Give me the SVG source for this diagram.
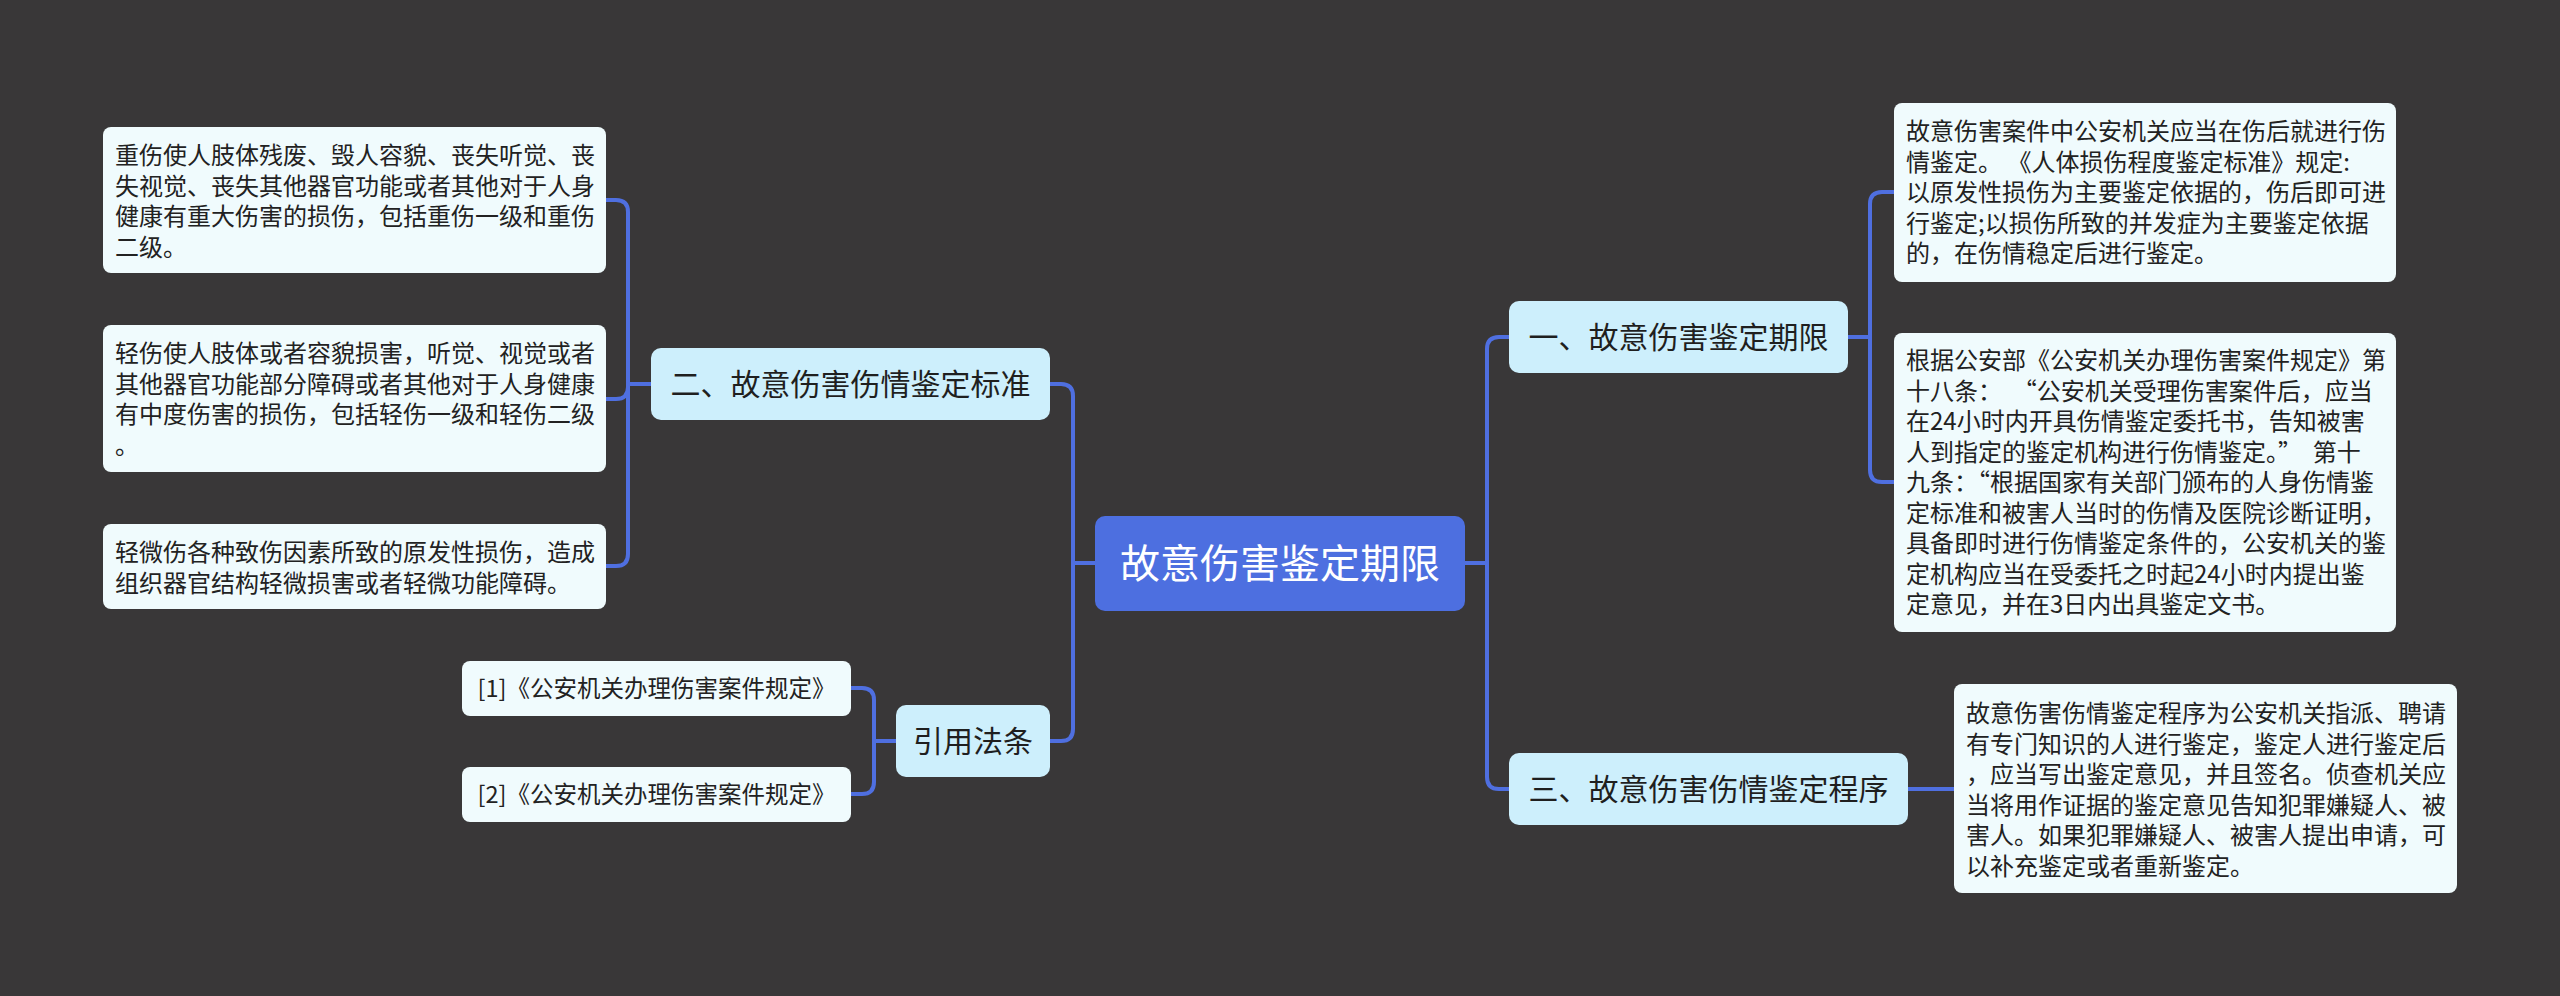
<svg xmlns="http://www.w3.org/2000/svg" width="2560" height="996" viewBox="0 0 2560 996">
<style>
text{font-family:"Noto Sans CJK SC","Noto Sans",sans-serif;}
.leaf{fill:#f0fbfd;}
.branch{fill:#cdeffc;}
.root{fill:#4d6fe0;}
.lt{font-size:24px;fill:#222222;}
.bt{font-size:30px;fill:#1f1f1f;text-anchor:middle;}
.rt{font-size:40px;fill:#ffffff;text-anchor:middle;}
.ref{font-size:23.5px;fill:#222222;text-anchor:middle;}
.conn path{fill:none;stroke:#4f6fe0;stroke-width:4;stroke-linejoin:round;stroke-linecap:round;}
</style>
<rect x="0" y="0" width="2560" height="996" fill="#393738"/>
<g id="connectors" class="conn">
<path d="M1465,563 H1487 V349 Q1487,337 1499,337 H1509"/>
<path d="M1465,563 H1487 V777 Q1487,789 1499,789 H1509"/>
<path d="M1095,563 H1073 V396 Q1073,384 1061,384 H1050"/>
<path d="M1095,563 H1073 V729 Q1073,741 1061,741 H1050"/>
<path d="M651,384 H628 V212 Q628,200 616,200 H606"/>
<path d="M651,384 H628 V387 Q628,399 616,399 H606"/>
<path d="M651,384 H628 V554 Q628,566 616,566 H606"/>
<path d="M896,741 H874 V700 Q874,688 862,688 H851"/>
<path d="M896,741 H874 V782 Q874,794 862,794 H851"/>
<path d="M1848,337 H1870 V204 Q1870,192 1882,192 H1894"/>
<path d="M1848,337 H1870 V470 Q1870,482 1882,482 H1894"/>
<path d="M1908,789 H1954"/>
</g>
<g id="root">
<rect class="root" x="1095" y="516" width="370" height="95" rx="10"/>
<text class="rt" x="1280" y="578">故意伤害鉴定期限</text>
</g>
<g id="b1">
<rect class="branch" x="1509" y="301" width="339" height="72" rx="10"/>
<text class="bt" x="1678.5" y="348">一、故意伤害鉴定期限</text>
</g>
<g id="b2">
<rect class="branch" x="651" y="348" width="399" height="72" rx="10"/>
<text class="bt" x="850.5" y="395">二、故意伤害伤情鉴定标准</text>
</g>
<g id="b3">
<rect class="branch" x="1509" y="753" width="399" height="72" rx="10"/>
<text class="bt" x="1708.5" y="800">三、故意伤害伤情鉴定程序</text>
</g>
<g id="b4">
<rect class="branch" x="896" y="705" width="154" height="72" rx="10"/>
<text class="bt" x="973" y="752">引用法条</text>
</g>
<g id="l1">
<rect class="leaf" x="103" y="127" width="503" height="146" rx="8"/>
<text class="lt" x="115" y="164">重伤使人肢体残废、毁人容貌、丧失听觉、丧</text>
<text class="lt" x="115" y="194.5">失视觉、丧失其他器官功能或者其他对于人身</text>
<text class="lt" x="115" y="225">健康有重大伤害的损伤，包括重伤一级和重伤</text>
<text class="lt" x="115" y="255.5">二级。</text>
</g>
<g id="l2">
<rect class="leaf" x="103" y="325" width="503" height="147" rx="8"/>
<text class="lt" x="115" y="362">轻伤使人肢体或者容貌损害，听觉、视觉或者</text>
<text class="lt" x="115" y="392.5">其他器官功能部分障碍或者其他对于人身健康</text>
<text class="lt" x="115" y="423">有中度伤害的损伤，包括轻伤一级和轻伤二级</text>
<text class="lt" x="115" y="453.5">。</text>
</g>
<g id="l3">
<rect class="leaf" x="103" y="524" width="503" height="85" rx="8"/>
<text class="lt" x="115" y="561">轻微伤各种致伤因素所致的原发性损伤，造成</text>
<text class="lt" x="115" y="591.5">组织器官结构轻微损害或者轻微功能障碍。</text>
</g>
<g id="ref1">
<rect class="leaf" x="462" y="661" width="389" height="55" rx="8"/>
<text class="ref" x="656.5" y="697">[1]《公安机关办理伤害案件规定》</text>
</g>
<g id="ref2">
<rect class="leaf" x="462" y="767" width="389" height="55" rx="8"/>
<text class="ref" x="656.5" y="803">[2]《公安机关办理伤害案件规定》</text>
</g>
<g id="r1">
<rect class="leaf" x="1894" y="103" width="502" height="179" rx="8"/>
<text class="lt" x="1906" y="140">故意伤害案件中公安机关应当在伤后就进行伤</text>
<text class="lt" x="1906" y="170.5" xml:space="preserve">情鉴定。 《人体损伤程度鉴定标准》规定:</text>
<text class="lt" x="1906" y="201">以原发性损伤为主要鉴定依据的，伤后即可进</text>
<text class="lt" x="1906" y="231.5">行鉴定;以损伤所致的并发症为主要鉴定依据</text>
<text class="lt" x="1906" y="262">的，在伤情稳定后进行鉴定。</text>
</g>
<g id="r2">
<rect class="leaf" x="1894" y="333" width="502" height="299" rx="8"/>
<text class="lt" x="1906" y="369">根据公安部《公安机关办理伤害案件规定》第</text>
<text class="lt" x="1906" y="399.5" xml:space="preserve">十八条：  “公安机关受理伤害案件后，应当</text>
<text class="lt" x="1906" y="430">在24小时内开具伤情鉴定委托书，告知被害</text>
<text class="lt" x="1906" y="460.5" xml:space="preserve">人到指定的鉴定机构进行伤情鉴定。”  第十</text>
<text class="lt" x="1906" y="491">九条：“根据国家有关部门颁布的人身伤情鉴</text>
<text class="lt" x="1906" y="521.5">定标准和被害人当时的伤情及医院诊断证明，</text>
<text class="lt" x="1906" y="552">具备即时进行伤情鉴定条件的，公安机关的鉴</text>
<text class="lt" x="1906" y="582.5">定机构应当在受委托之时起24小时内提出鉴</text>
<text class="lt" x="1906" y="613">定意见，并在3日内出具鉴定文书。</text>
</g>
<g id="r3">
<rect class="leaf" x="1954" y="684" width="503" height="209" rx="8"/>
<text class="lt" x="1966" y="722">故意伤害伤情鉴定程序为公安机关指派、聘请</text>
<text class="lt" x="1966" y="752.5">有专门知识的人进行鉴定，鉴定人进行鉴定后</text>
<text class="lt" x="1966" y="783">，应当写出鉴定意见，并且签名。侦查机关应</text>
<text class="lt" x="1966" y="813.5">当将用作证据的鉴定意见告知犯罪嫌疑人、被</text>
<text class="lt" x="1966" y="844">害人。如果犯罪嫌疑人、被害人提出申请，可</text>
<text class="lt" x="1966" y="874.5">以补充鉴定或者重新鉴定。</text>
</g>
</svg>
